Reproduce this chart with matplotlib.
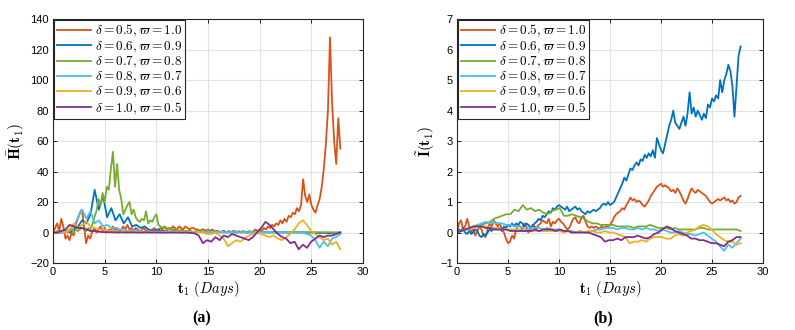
import numpy as np
import matplotlib
matplotlib.use("Agg")
import matplotlib.pyplot as plt

plt.rcParams["mathtext.fontset"] = "cm"
plt.rcParams["font.family"] = ["Liberation Sans", "DejaVu Sans"]

# MATLAB default line colours
COLORS = ["#D95319", "#0072BD", "#77AC30", "#4DBEEE", "#EDB120", "#7E2F8E"]
LABELS = [
    r"$\delta=0.5,\varpi=1.0$",
    r"$\delta=0.6,\varpi=0.9$",
    r"$\delta=0.7,\varpi=0.8$",
    r"$\delta=0.8,\varpi=0.7$",
    r"$\delta=0.9,\varpi=0.6$",
    r"$\delta=1.0,\varpi=0.5$",
]
T_END = 27.8

# ---- panel (a): H(t1) ----
h_orange = [0, 3, 6, 1, 9, 4, -4, -2, -5, 0,
            -2, 5, 9, 13, 15, 4, -7, -2, -4, 1,
            3, 0, 2, 4, 1, 3, 0, 2, 1, 4,
            1, 3, 0, 2, 4, 2, 5, 2, 3, 1,
            3, 2, 0, 2, 3, 1, 2, 0, 2, 3,
            1, 2, 3, 2, 4, 2, 3, 2, 4, 3,
            2, 4, 3, 2, 4, 3, 2, 3, 3, 2,
            2, 1, 2, 2, 1, 2, 1, 2, 1, 1,
            1, 0, 1, 1, 0, 1, 0, 1, 1, 0,
            1, 0, 1, 0, 0, 1, 0, 1, 2, 1,
            2, 1, 3, 2, 4, 3, 5, 4, 6, 5,
            8, 6, 9, 7, 11, 10, 13, 12, 16, 14,
            18, 35, 24, 20, 25, 18, 15, 13, 18, 22,
            30, 42, 58, 80, 128, 85, 60, 45, 75, 55]
h_green = [0, 0, 1, 0, 1, 0, 1, 0, 1, 2,
           1, 2, 1, 2, 3, 2, 1, 3, 2, 5,
           10, 14, 22, 18, 26, 20, 30, 28, 42, 53,
           30, 45, 28, 22, 12, 15, 18, 20, 12, 15,
           10, 8, 7, 9, 8, 14, 6, 8, 7, 10,
           12, 5, 4, 3, 4, 3, 2, 3, 2, 2,
           2, 1, 2, 1, 1, 1, 1, 1, 0, 1,
           1, 0.5, 1, 0.5, 0.5, 1, 0.5, 0.5, 0.5, 0.5,
           0.6, 0.4, 0.5, 0.5, 0.4, 0.5, 0.6, 0.4, 0.5, 0.5,
           0.4, 0.5, 0.4, 0.5, 0.4, 0.4, 0.5, 0.4, 0.4, 0.4,
           0.4, 0.3, 0.4, 0.3, 0.4, 0.3, 0.3, 0.4, 0.3, 0.3,
           0.3, 0.3, 0.2, 0.3, 0.3, 0.2, 0.3, 0.2, 0.3, 0.2,
           0.2, 0.3, 0.2, 0.2, 0.2, 0.3, 0.2, 0.2, 0.2, 0.2,
           0.2, 0.2, 0.1, 0.2, 0.2, 0.1, 0.2, 0.1, 0.2, 0.2]
h_blue = [0, 0, 0, 1, 0, 2, 4, 8, 6, 12,
          28, 15, 24, 10, 16, 8, 12, 6, 10, 4,
          5, 3, 4, 2, 1, 2, 1, 1, 0.5, 1,
          0.5, 0.5, 0.3, 0.5, 0.3, 0.3, 0.2, 0.3, 0.2, 0.2,
          0.2, 0.1, 0.2, 0.1, 0.1, 0.2, 0.1, 0.1, 0.1, 0.1,
          0.1, 0.1, 0.0, 0.1, 0.0, 0.1, 0.0, 0.0, 0.1, 0.0,
          0.0, 0.0, 0.0, -0.2, -0.3, -0.2, -0.4, -0.3, -0.2, -0.1]
h_lightblue = [0, 0, 0, 1, 2, 4, 10, 15, 9, 14,
               6, 8, 4, 5, 3, 3, 2, 2, 1, 1.5,
               1, 1, 0.5, 0.8, 0.5, 0.6, 0.5, 0.5, 0.4, 0.5,
               0.4, 0.4, 0.5, 0.4, 0.3, 0.4, 0.3, 0.3, 0.4, 0.3,
               0.3, 0.3, 0.2, 0.3, 0.3, 0.2, 0.3, 0.2, 0.2, 0.2,
               0.2, 0.1, 0.2, 0.1, 0.1, 0.2, 0.1, 0.0, 0.1, 0.0,
               0, -1, -2, -5, -10, -6, -9, -4, -3, -1]
h_yellow = [0, 0, 1, 0, 2, 6, 3, 5, 7, 4,
            3, 2, 2, 1, 1, 1, 0.5, 0.8, 0.5, 0.6,
            0.5, 0.5, 0.4, 0.5, 0.4, 0.3, 0.4, 0.3, 0.3, 0.2,
            0.3, 0.2, 0.2, 0.1, 0.2, 0.1, 0, -1, -1, 0,
            -2, -4, -9, -7, -5, -6, -4, -2, -1, 0,
            -1, -2, -3, -2, -4, -5, -3, -1, 2, 6,
            8, 5, 1, -1, -3, -5, -4, -8, -6, -11]
h_purple = [0, 0, 1, 2, 5, 4, 3, 3, 2, 1,
            1, 0.5, 0.3, 0.2, 0.2, 0.1, 0.1, 0.1, 0.0, 0.1,
            0.0, 0.0, 0.1, 0.0, 0.0, 0.0, 0.0, -0.1, 0.0, 0.0,
            0.0, -0.1, 0.0, -0.2, -0.5, -2, -7, -5, -6, -3,
            -5, -2, -3, -1, -2, -3, -4, -5, -3, 0,
            3, 7, 5, 2, -1, -3, -4, -7, -6, -11,
            -8, -10, -6, -4, -2, -3, -2, -2, -1, 0]

# ---- panel (b): I(t1) ----
i_orange = [0, 0.3, 0.4, 0.1, 0.2, 0.45, 0.2, 0.0, 0.1, -0.1,
            0.05, 0.2, 0.1, -0.1, -0.15, 0.1, 0.3, 0.2, 0.4, 0.3,
            0.2, 0.3, 0.1, 0.0, -0.2, -0.35, -0.3, -0.1, -0.2, 0.1,
            0.25, 0.2, 0.1, 0.3, 0.2, 0.0, 0.1, 0.25, 0.2, 0.15,
            0.25, 0.3, 0.4, 0.35, 0.3, 0.45, 0.2, 0.35, 0.3, 0.4,
            0.45, 0.35, 0.3, 0.2, 0.1, 0.15, 0.3, 0.45, 0.5, 0.35,
            0.3, 0.5, 0.55, 0.35, 0.2, 0.15, 0.2, 0.15, 0.2, 0.15,
            0.15, 0.2, 0.15, 0.2, 0.2, 0.25, 0.35, 0.5, 0.6, 0.65,
            0.7, 0.8, 0.75, 0.9, 1.0, 1.15, 1.05, 1.1, 1.0, 1.05,
            1.0, 0.9, 0.85, 0.95, 1.05, 1.2, 1.3, 1.4, 1.5, 1.55,
            1.6, 1.5, 1.55, 1.5, 1.45, 1.35, 1.4, 1.3, 1.45, 1.35,
            1.2, 1.05, 0.95, 1.1, 1.3, 1.45, 1.35, 1.3, 1.4, 1.35,
            1.3, 1.25, 1.2, 1.1, 1.0, 0.95, 1.0, 1.05, 1.1, 1.05,
            1.1, 1.15, 1.05, 1.1, 1.0, 1.05, 0.95, 1.0, 1.15, 1.2]
i_blue = [0, 0.1, 0.05, 0.15, 0.0, -0.05, 0.05, -0.05, 0.0, 0.1,
          0.05, -0.1, -0.15, -0.05, -0.1, 0.0, 0.1, 0.05, 0.15, 0.1,
          0.1, 0.15, 0.05, 0.2, 0.15, 0.25, 0.2, 0.3, 0.2, 0.3,
          0.25, 0.35, 0.3, 0.2, 0.3, 0.25, 0.15, 0.2, 0.3, 0.35,
          0.45, 0.4, 0.55, 0.5, 0.6, 0.7, 0.65, 0.8, 0.75, 0.85,
          0.9, 0.85, 0.8, 0.75, 0.85, 0.7, 0.75, 0.8, 0.85, 0.75,
          0.8, 0.7, 0.65, 0.6, 0.7, 0.65, 0.7, 0.75, 0.7, 0.75,
          0.8, 0.9, 0.95, 0.9, 1.0, 0.9, 0.95, 1.0, 1.15, 1.3,
          1.45, 1.6, 1.8, 1.7, 1.9, 2.1, 2.05, 2.2, 2.3, 2.2,
          2.4, 2.35, 2.55, 2.45, 2.6, 2.5, 2.7, 2.45, 3.1, 2.9,
          2.7, 2.6, 2.9, 3.2, 3.5, 3.7, 4.0, 3.6, 3.5, 3.4,
          3.6, 3.8, 3.5, 3.9, 4.6, 3.9, 4.1, 3.8, 4.0, 3.85,
          3.7, 3.9, 3.75, 4.2, 4.1, 4.4, 4.3, 4.5, 4.4, 5.0,
          4.6, 5.0, 5.2, 5.5, 5.3, 4.8, 3.8, 4.8, 5.8, 6.1]
i_green = [0, 0.05, 0.1, 0.1, 0.15, 0.2, 0.25, 0.3, 0.35, 0.45,
           0.5, 0.55, 0.6, 0.6, 0.75, 0.7, 0.9, 0.75, 0.8, 0.7,
           0.75, 0.65, 0.6, 0.7, 0.75, 0.8, 0.55, 0.55, 0.6, 0.55,
           0.5, 0.45, 0.35, 0.3, 0.3, 0.25, 0.25, 0.25, 0.25, 0.2,
           0.2, 0.2, 0.2, 0.15, 0.2, 0.2, 0.2, 0.25, 0.2, 0.15,
           0.15, 0.15, 0.1, 0.15, 0.1, 0.1, 0.1, 0.1, 0.1, 0.15,
           0.15, 0.1, 0.1, 0.1, 0.1, 0.1, 0.1, 0.1, 0.1, 0.05]
i_lightblue = [0, 0.05, 0.1, 0.1, 0.2, 0.25, 0.3, 0.35, 0.3, 0.35,
               0.3, 0.3, 0.25, 0.25, 0.2, 0.2, 0.15, 0.1, 0.15, 0.15,
               0.15, 0.1, 0.15, 0.1, 0.1, 0.1, 0.05, 0.05, 0.05, 0.0,
               0.05, 0.0, 0.0, 0.05, 0.1, 0.1, 0.15, 0.15, 0.15, 0.1,
               0.15, 0.15, 0.1, 0.1, 0.15, 0.1, 0.15, 0.1, 0.1, 0.05,
               0.1, 0.05, 0.0, 0.0, 0.05, 0.0, -0.05, -0.05, -0.1, -0.05,
               0.0, -0.1, -0.2, -0.3, -0.45, -0.6, -0.4, -0.5, -0.35, -0.2]
i_yellow = [0, 0.05, 0.1, 0.15, 0.15, 0.2, 0.2, 0.2, 0.15, 0.15,
            0.15, 0.1, 0.1, 0.1, 0.1, 0.1, 0.05, 0.05, 0.05, 0.05,
            0.05, 0.05, 0.05, 0.05, 0.05, 0.05, 0.0, 0.05, 0.0, 0.0,
            0.05, 0.0, 0.05, 0.05, 0.0, 0.0, 0.05, 0.0, 0.0, -0.05,
            -0.1, -0.15, -0.35, -0.3, -0.3, -0.25, -0.3, -0.2, -0.15, -0.15,
            -0.15, -0.2, -0.2, -0.1, -0.05, -0.1, 0.0, 0.05, 0.1, 0.2,
            0.25, 0.2, 0.1, -0.05, -0.15, -0.25, -0.3, -0.3, -0.4, -0.35]
i_purple = [0, 0.05, 0.1, 0.15, 0.2, 0.2, 0.2, 0.15, 0.15, 0.1,
            0.1, 0.1, 0.1, 0.05, 0.05, 0.05, 0.05, 0.05, 0.05, 0.1,
            0.05, 0.1, 0.1, 0.1, 0.05, 0.1, 0.05, 0.05, 0.0, 0.0,
            0.0, 0.0, 0.0, -0.05, -0.1, -0.15, -0.3, -0.25, -0.25, -0.2,
            -0.25, -0.15, -0.15, -0.15, -0.1, -0.15, -0.2, -0.15, -0.05, 0.0,
            0.1, 0.2, 0.15, 0.05, 0.0, -0.05, -0.1, -0.2, -0.2, -0.25,
            -0.25, -0.3, -0.35, -0.35, -0.4, -0.45, -0.3, -0.25, -0.15, -0.15]

H_SERIES = [h_orange, h_blue, h_green, h_lightblue, h_yellow, h_purple]
I_SERIES = [i_orange, i_blue, i_green, i_lightblue, i_yellow, i_purple]


def style_axes(ax, ylim, yticks):
    ax.set_xlim(0, 30)
    ax.set_ylim(*ylim)
    ax.set_xticks(np.arange(0, 31, 5))
    ax.set_yticks(yticks)
    ax.grid(True, color="#e3e3e3", linewidth=0.8)
    ax.set_axisbelow(True)
    ax.tick_params(direction="in", length=3, labelsize=8, top=True, right=True,
                   width=0.6, pad=3)
    for spine in ax.spines.values():
        spine.set_linewidth(0.8)
        spine.set_color("#262626")
    ax.set_xlabel(r"$\mathbf{t}_1\ (Days)$", fontsize=10.5, labelpad=1)


def draw_panel(ax, series):
    for vals, color, label in zip(series, COLORS, LABELS):
        t = np.linspace(0, T_END, len(vals))
        ax.plot(t, vals, color=color, linewidth=1.3, label=label)
    leg = ax.legend(loc="upper left", fontsize=9.5, frameon=True, fancybox=False,
                    framealpha=1, edgecolor="#262626", borderaxespad=0.1,
                    labelspacing=0.0, handlelength=2.6, handletextpad=0.25,
                    borderpad=0.2)
    leg.get_frame().set_linewidth(0.8)


fig = plt.figure(figsize=(7.95, 3.3), dpi=100)
ax1 = fig.add_axes([0.0667, 0.203, 0.390, 0.739])
ax2 = fig.add_axes([0.5748, 0.203, 0.385, 0.739])

draw_panel(ax1, H_SERIES)
style_axes(ax1, (-20, 140), np.arange(-20, 141, 20))
ax1.set_ylabel(r"$\bar{\mathbf{H}}(\mathbf{t}_1)$", fontsize=11, labelpad=2)

draw_panel(ax2, I_SERIES)
style_axes(ax2, (-1, 7), np.arange(-1, 8, 1))
ax2.set_ylabel(r"$\tilde{\mathbf{I}}(\mathbf{t}_1)$", fontsize=11, labelpad=2)

fig.text(202 / 795, 1 - 318 / 330, "(a)", fontsize=11.5, fontweight="bold",
         family="Liberation Serif", ha="center", va="center")
fig.text(603 / 795, 1 - 318 / 330, "(b)", fontsize=11.5, fontweight="bold",
         family="Liberation Serif", ha="center", va="center")

fig.savefig("out.png", dpi=100)
